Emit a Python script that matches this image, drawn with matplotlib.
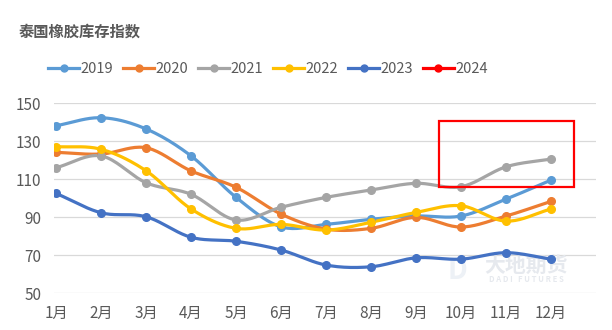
import numpy as np
import matplotlib
matplotlib.use("Agg")
import matplotlib.pyplot as plt
from matplotlib.patches import Rectangle

plt.rcParams['font.family'] = ['Noto Sans CJK SC', 'DejaVu Sans']

months = ['1月', '2月', '3月', '4月', '5月', '6月', '7月', '8月', '9月', '10月', '11月', '12月']
years = ['2019', '2020', '2021', '2022', '2023', '2024']
v2019 = [138.2, 142.4, 136.5, 122.3, 100.5, 85.0, 86.3, 89.0, 90.7, 90.7, 99.6, 109.6]
v2020 = [124.2, 123.3, 126.6, 114.4, 105.8, 91.7, 83.8, 84.2, 90.0, 84.9, 90.7, 98.4]
v2021 = [116.1, 122.3, 108.2, 102.1, 88.6, 95.3, 100.5, 104.4, 107.9, 106.1, 116.6, 120.7]
v2022 = [127.2, 125.8, 114.5, 94.4, 84.2, 86.3, 83.3, 87.4, 92.6, 96.1, 88.0, 94.4]
v2023 = [102.6, 92.4, 90.3, 79.5, 77.4, 72.8, 64.9, 64.0, 68.7, 68.0, 71.4, 68.0]
v2024 = []
colors = ['#5B9BD5', '#ED7D31', '#A5A5A5', '#FFC000', '#4472C4', '#FF0000']


def smooth(y, n=20):
    # Catmull-Rom style smoothing, like Excel's smoothed line
    y = np.asarray(y, float)
    x = np.arange(len(y), dtype=float)
    if len(y) < 3:
        return x, y
    px = np.concatenate([[2 * x[0] - x[1]], x, [2 * x[-1] - x[-2]]])
    py = np.concatenate([[2 * y[0] - y[1]], y, [2 * y[-1] - y[-2]]])
    xs, ys = [], []
    t = np.linspace(0, 1, n, endpoint=False)
    for i in range(1, len(px) - 2):
        for arr, out in ((px, xs), (py, ys)):
            p0, p1, p2, p3 = arr[i - 1], arr[i], arr[i + 1], arr[i + 2]
            out.extend(0.5 * (2 * p1 + (-p0 + p2) * t + (2 * p0 - 5 * p1 + 4 * p2 - p3) * t ** 2
                              + (-p0 + 3 * p1 - 3 * p2 + p3) * t ** 3))
    xs.append(x[-1])
    ys.append(y[-1])
    return np.array(xs), np.array(ys)


fig = plt.figure(figsize=(6.12, 3.3), dpi=100)
ax = fig.add_axes([0.088, 0.111, 0.886, 0.576])

series = [v2019, v2020, v2021, v2022, v2023, v2024]
handles = []
for name, vals, c in zip(years, series, colors):
    if len(vals):
        sx, sy = smooth(vals)
        ax.plot(sx, sy, color=c, lw=2.3, solid_capstyle='round', zorder=3)
        ax.plot(np.arange(len(vals)), vals, 'o', color=c, ms=5.5, zorder=4)
    h, = ax.plot([], [], color=c, lw=2.3, marker='o', ms=5)
    handles.append(h)

ax.add_patch(Rectangle((8.5, 105.8), 3.0, 34.9, fill=False, ec='#FF0000', lw=1.6, zorder=5))

# faint watermark, under the lines
ax.text(0.86, 0.195, '大地期货', transform=fig.transFigure, fontsize=15, color='#E6E9EE',
        ha='center', va='center', fontweight='bold', zorder=1)
ax.text(0.86, 0.152, 'D A D I   F U T U R E S', transform=fig.transFigure, fontsize=5.5,
        color='#E6E9EE', ha='center', va='center', fontweight='bold', zorder=1)
ax.text(0.748, 0.18, 'D', transform=fig.transFigure, fontsize=20, color='#EDF1F6',
        ha='center', va='center', fontweight='bold', zorder=1)

ax.set_ylim(50, 150)
ax.set_xlim(-0.05, 12)
ax.set_yticks(range(50, 151, 20))
ax.set_xticks(range(12))
ax.set_xticklabels(months)
ax.grid(axis='y', color='#D9D9D9', lw=0.9)
ax.set_axisbelow(True)
for s in ax.spines.values():
    s.set_visible(False)
ax.tick_params(length=0, labelsize=11, colors='#595959')
ax.tick_params(axis='y', pad=9)
ax.tick_params(axis='x', pad=8)

fig.text(0.03, 0.903, '泰国橡胶库存指数', fontsize=11, fontweight='bold', color='#595959', va='center')
fig.legend(handles, years, loc='center', bbox_to_anchor=(0.438, 0.79), ncol=6, frameon=False,
           fontsize=10.5, labelcolor='#595959', handlelength=2.1, handletextpad=0.1, columnspacing=0.7)

fig.savefig('out.png', dpi=100)
